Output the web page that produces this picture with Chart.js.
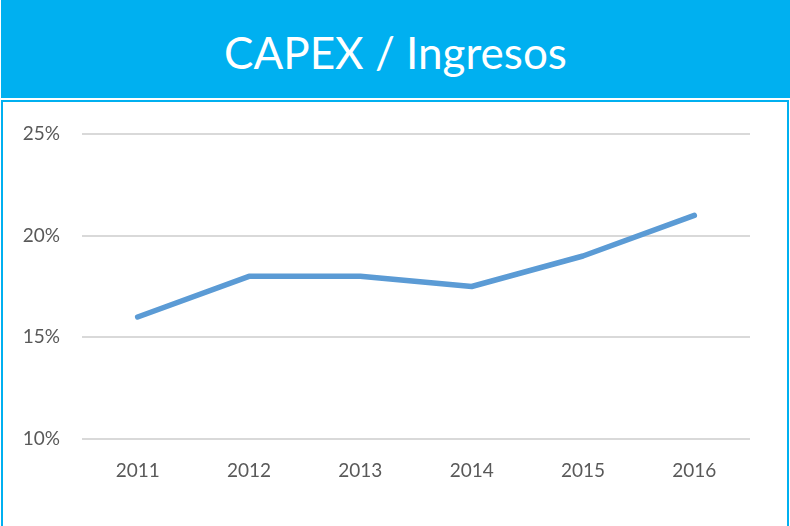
<!DOCTYPE html>
<html>
<head>
<meta charset="utf-8">
<script src="https://cdn.jsdelivr.net/npm/chart.js@4"></script>
<style>
  body { margin: 0; width: 790px; height: 526px; overflow: hidden; background: #fff; font-family: Lato, "Open Sans", sans-serif; }
  #header { position: absolute; left: 1px; top: 0; width: 789px; height: 98px; background: #00B0F0; color: #fff;
            font-size: 44px; text-align: center; line-height: 104px; }
  #box { position: absolute; left: 1px; top: 100px; width: 784px; height: 460px; border: 2px solid #00B0F0; }
  #wrap { position: absolute; left: 0; top: 100px; width: 790px; height: 426px; }
</style>
</head>
<body>
<div id="header">CAPEX / Ingresos</div>
<div id="box"></div>
<div id="wrap"><canvas id="chart"></canvas></div>
<script>
const years = ["2011", "2012", "2013", "2014", "2015", "2016"];
const capexPct = [16, 18, 18, 17.5, 19, 21];
const yTicks = [10, 15, 20, 25];

const ctx = document.getElementById('chart').getContext('2d');
new Chart(ctx, {
    type: 'line',
    data: {
        labels: years,
        datasets: [{
            label: 'CAPEX / Ingresos',
            data: capexPct,
            borderColor: '#5B9BD5',
            borderWidth: 5.5,
            borderCapStyle: 'round',
            borderJoinStyle: 'round',
            pointRadius: 0,
            tension: 0,
            fill: false
        }]
    },
    options: {
        responsive: true,
        maintainAspectRatio: false,
        animation: false,
        layout: { padding: { left: 0, right: 40, top: 34, bottom: 0 } },
        plugins: { legend: { display: false }, tooltip: { enabled: false } },
        scales: {
            x: {
                offset: true,
                grid: { display: false, drawTicks: false },
                border: { display: false },
                ticks: { color: '#595959', font: { family: 'Lato', size: 19 }, padding: 20, maxRotation: 0 },
                afterFit: s => { s.height = 87; }
            },
            y: {
                min: 10, max: 25,
                afterBuildTicks: s => { s.ticks = yTicks.map(v => ({ value: v })); },
                grid: { color: '#D9D9D9', lineWidth: 2, drawTicks: false },
                border: { display: false },
                ticks: { color: '#595959', font: { family: 'Lato', size: 19 }, padding: 22, callback: v => v + '%' },
                afterFit: s => { s.width = 82; }
            }
        }
    }
});
</script>
</body>
</html>
